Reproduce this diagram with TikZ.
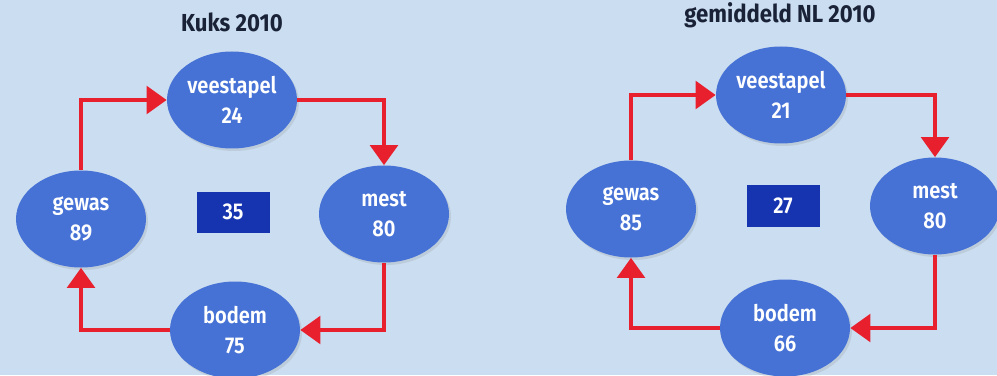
\documentclass[tikz,border=0pt]{standalone}
\usepackage{fontspec}
\setmainfont{Fira Sans}[BoldFont={Fira Sans SemiBold}, FakeStretch=0.88]
\newfontfamily\headfont{Fira Sans}[FakeStretch=0.9]
\usepackage{xcolor}
\usepackage{tikz}
\usetikzlibrary{positioning, arrows.meta, shapes.geometric, shadows}
\definecolor{PaperBlue}{RGB}{203,221,240}
\definecolor{PoolBlue}{RGB}{70,114,214}
\definecolor{SumBlue}{RGB}{22,52,176}
\definecolor{FlowRed}{RGB}{232,32,46}
\definecolor{TitleInk}{RGB}{26,34,56}
\tikzset{
  poolnode/.style={ellipse, fill=PoolBlue, draw=none, minimum width=2.6cm, minimum height=1.94cm,
    inner sep=0pt, align=center, text=white, font=\fontsize{13}{17}\selectfont\bfseries,
    drop shadow={opacity=0.18, shadow xshift=0.04cm, shadow yshift=-0.05cm}},
  sumbox/.style={fill=SumBlue, draw=none, minimum width=1.46cm, minimum height=0.82cm,
    inner sep=0pt, text=white, font=\fontsize{13}{16}\selectfont\bfseries},
  plottitle/.style={font=\headfont\fontsize{14}{16}\selectfont\bfseries, text=TitleInk},
  flowarr/.style={-{Triangle[length=0.4cm, width=0.55cm]}, line width=2.2pt, FlowRed},
}

\begin{document}
\begin{tikzpicture}
    \useasboundingbox (0,0) rectangle (19.94,7.5);
    \fill[PaperBlue] (0,0) rectangle (19.94,7.5);
    % Kuks 2010
    \node[plottitle] (titleL) at (4.64,7.06) {Kuks 2010};
    \node[poolnode] (veeL) at (4.64,5.5) {veestapel\\24};
    \node[poolnode] (mestL) at (7.68,3.22) {mest\\80};
    \node[poolnode] (bodemL) at (4.7,0.9) {bodem\\75};
    \node[poolnode] (gewasL) at (1.62,3.12) {gewas\\89};
    \node[sumbox] (sumL) at (4.66,3.26) {35};
    % gemiddeld NL 2010
    \node[plottitle] (titleR) at (15.6,7.2) {gemiddeld NL 2010};
    \node[poolnode] (veeR) at (15.62,5.6) {veestapel\\21};
    \node[poolnode] (mestR) at (18.7,3.38) {mest\\80};
    \node[poolnode] (bodemR) at (15.7,0.94) {bodem\\66};
    \node[poolnode] (gewasR) at (12.62,3.32) {gewas\\85};
    \node[sumbox] (sumR) at (15.66,3.38) {27};
    \foreach \s in {L,R} {
      \draw[flowarr] (gewas\s.north) |- (vee\s.west);
      \draw[flowarr] (vee\s.east) -| (mest\s.north);
      \draw[flowarr] (mest\s.south) |- (bodem\s.east);
      \draw[flowarr] (bodem\s.west) -| (gewas\s.south);
    }
\end{tikzpicture}
\end{document}
